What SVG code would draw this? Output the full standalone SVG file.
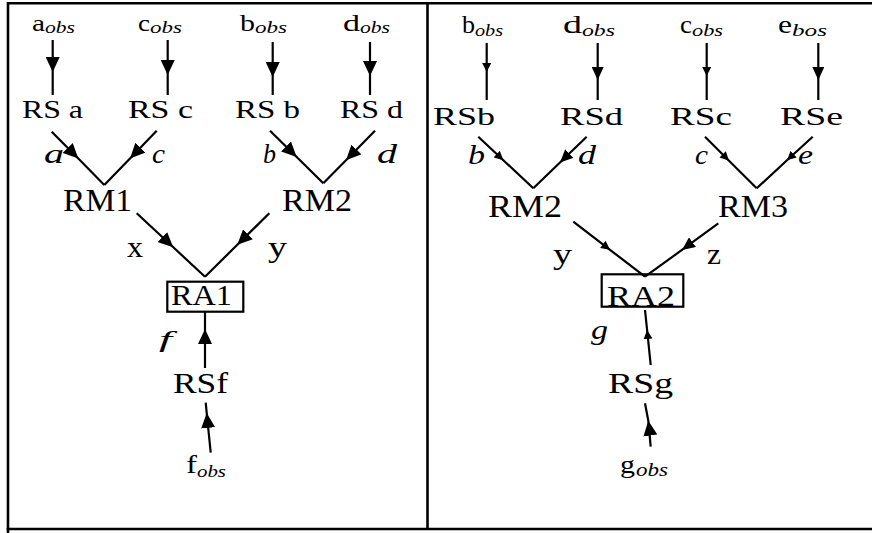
<svg xmlns="http://www.w3.org/2000/svg" width="872" height="533" viewBox="0 0 872 533">
<style>
text{font-family:"Times New Roman","Liberation Serif",serif;fill:#000;}
.m{font-size:24px;}
.s{font-size:17px;font-style:italic;}
.rs{font-size:25px;}
.rm{font-size:31px;}
.it{font-size:28px;font-style:italic;}
.xy{font-size:30px;}
.ra{font-size:29px;}
.c{fill:none;stroke:#000;stroke-width:2.2;}
.frame{fill:none;stroke:#000;stroke-width:2.6;}
</style>
<defs>
<marker id="big" markerUnits="userSpaceOnUse" markerWidth="16" markerHeight="14" refX="15" refY="7" orient="auto" viewBox="0 0 16 14"><path d="M0,0 L15,7 L0,14 z" fill="#000"/></marker>
<marker id="med" markerUnits="userSpaceOnUse" markerWidth="14" markerHeight="12" refX="13" refY="6" orient="auto" viewBox="0 0 14 12"><path d="M0,0 L13,6 L0,12 z" fill="#000"/></marker>
<marker id="sm" markerUnits="userSpaceOnUse" markerWidth="10" markerHeight="9" refX="9" refY="4.5" orient="auto" viewBox="0 0 10 9"><path d="M0,0 L9,4.5 L0,9 z" fill="#000"/></marker>
</defs>
<rect width="872" height="533" fill="#fff"/>
<g id="frame">
<path class="frame" d="M8,533 V3.3 H872"/>
<path class="frame" d="M6.7,529 H872"/>
<path class="frame" d="M427.5,3 V529"/>
</g>
<g id="connectors">
<path class="c" d="M52.7,40 L52.7,72 L52.7,95" marker-mid="url(#big)"/>
<path class="c" d="M167.7,40 L167.7,75 L167.7,95" marker-mid="url(#big)"/>
<path class="c" d="M272.7,42 L272.7,77 L272.7,95" marker-mid="url(#big)"/>
<path class="c" d="M370,42 L370,76 L370,95" marker-mid="url(#big)"/>
<path class="c" d="M51.7,131.7 L78.3,158.6 L104.3,185" marker-mid="url(#big)"/>
<path class="c" d="M156.7,130.7 L130,158.4 L104.3,185" marker-mid="url(#big)"/>
<path class="c" d="M270,130.7 L296.7,157 L323.3,183.3" marker-mid="url(#big)"/>
<path class="c" d="M375,130.7 L346,160.2 L323.3,183.3" marker-mid="url(#big)"/>
<path class="c" d="M136.7,213.3 L173.3,247.3 L205,276.7" marker-mid="url(#big)"/>
<path class="c" d="M269.3,213.3 L237.3,244.8 L205,276.7" marker-mid="url(#big)"/>
<path class="c" d="M205,368 L205,329 L205,311.7" marker-mid="url(#big)"/>
<path class="c" d="M210.7,452.7 L206.7,413 L205.7,402.7" marker-mid="url(#big)"/>
<path class="c" d="M486.7,43 L486.7,72 L486.7,100" marker-mid="url(#sm)"/>
<path class="c" d="M597.7,43 L597.7,80 L597.7,100" marker-mid="url(#med)"/>
<path class="c" d="M706.7,43 L706.7,76 L706.7,100" marker-mid="url(#sm)"/>
<path class="c" d="M818.3,43 L818.3,80 L818.3,100" marker-mid="url(#med)"/>
<path class="c" d="M478.3,136.7 L503.3,160.2 L533.3,188.3" marker-mid="url(#sm)"/>
<path class="c" d="M586.7,136.7 L560,162.5 L533.3,188.3" marker-mid="url(#med)"/>
<path class="c" d="M705,136.7 L729,160.7 L756.7,188.3" marker-mid="url(#sm)"/>
<path class="c" d="M812.7,136.7 L787,160.3 L756.7,188.3" marker-mid="url(#sm)"/>
<path class="c" d="M573.3,221.7 L610,249.8 L645,276.7" marker-mid="url(#sm)"/>
<path class="c" d="M718.3,223.3 L682,249.9 L645,276.7" marker-mid="url(#med)"/>
<path class="c" d="M650.7,365 L647.1,330 L645,310" marker-mid="url(#sm)"/>
<path class="c" d="M650.7,446.7 L648.3,420.7 L645,403.3" marker-mid="url(#big)"/>
</g>
<g id="aobs"><text class="m" x="32" y="31" textLength="13" lengthAdjust="spacingAndGlyphs">a</text><text class="s" x="45" y="33" textLength="30" lengthAdjust="spacingAndGlyphs">obs</text></g>
<g id="cobs"><text class="m" x="138" y="31" textLength="12" lengthAdjust="spacingAndGlyphs">c</text><text class="s" x="150" y="33" textLength="32" lengthAdjust="spacingAndGlyphs">obs</text></g>
<g id="bobs"><text class="m" x="240" y="31" textLength="15" lengthAdjust="spacingAndGlyphs">b</text><text class="s" x="255" y="33" textLength="32" lengthAdjust="spacingAndGlyphs">obs</text></g>
<g id="dobs"><text class="m" x="343" y="31" textLength="17" lengthAdjust="spacingAndGlyphs">d</text><text class="s" x="360" y="33" textLength="30" lengthAdjust="spacingAndGlyphs">obs</text></g>
<g id="RSa"><text class="rs" x="22" y="118" textLength="61" lengthAdjust="spacingAndGlyphs">RS a</text></g>
<g id="RSc"><text class="rs" x="128" y="118" textLength="65" lengthAdjust="spacingAndGlyphs">RS c</text></g>
<g id="RSb"><text class="rs" x="235" y="118" textLength="65" lengthAdjust="spacingAndGlyphs">RS b</text></g>
<g id="RSd"><text class="rs" x="340" y="118" textLength="63" lengthAdjust="spacingAndGlyphs">RS d</text></g>
<g id="labels-left">
<text class="it" x="44" y="163" textLength="20" lengthAdjust="spacingAndGlyphs">a</text>
<text class="it" x="152" y="163" textLength="13" lengthAdjust="spacingAndGlyphs">c</text>
<text class="it" x="263" y="163" textLength="13" lengthAdjust="spacingAndGlyphs">b</text>
<text class="it" x="377" y="163" textLength="20" lengthAdjust="spacingAndGlyphs">d</text>
<text class="xy" x="127" y="257" textLength="16" lengthAdjust="spacingAndGlyphs">x</text>
<text class="xy" x="268" y="257" textLength="19" lengthAdjust="spacingAndGlyphs">y</text>
<text class="it" x="159" y="347" textLength="13" lengthAdjust="spacingAndGlyphs" style="font-size:24px">f</text>
</g>
<g id="RM1"><text class="rm" x="63" y="211" textLength="69" lengthAdjust="spacingAndGlyphs">RM1</text></g>
<g id="RM2a"><text class="rm" x="282" y="211" textLength="70" lengthAdjust="spacingAndGlyphs">RM2</text></g>
<g id="RA1"><rect x="167.3" y="281.7" width="76" height="30" fill="none" stroke="#000" stroke-width="2.2"/><text class="ra" x="171" y="305" textLength="61" lengthAdjust="spacingAndGlyphs">RA1</text></g>
<g id="RSf"><text class="ra" x="173" y="392.7" textLength="55" lengthAdjust="spacingAndGlyphs">RSf</text></g>
<g id="fobs"><text class="m" x="186" y="472.7" textLength="11" lengthAdjust="spacingAndGlyphs" style="font-size:25px">f</text><text class="s" x="197" y="477" textLength="29" lengthAdjust="spacingAndGlyphs">obs</text></g>
<g id="bobs2"><text class="m" x="462" y="33" textLength="13" lengthAdjust="spacingAndGlyphs" style="font-size:26px">b</text><text class="s" x="475" y="36" textLength="28" lengthAdjust="spacingAndGlyphs">obs</text></g>
<g id="dobs2"><text class="m" x="563" y="33" textLength="19" lengthAdjust="spacingAndGlyphs" style="font-size:26px">d</text><text class="s" x="582" y="36" textLength="33" lengthAdjust="spacingAndGlyphs">obs</text></g>
<g id="cobs2"><text class="m" x="680" y="33" textLength="12" lengthAdjust="spacingAndGlyphs" style="font-size:26px">c</text><text class="s" x="692" y="36" textLength="31" lengthAdjust="spacingAndGlyphs">obs</text></g>
<g id="ebos"><text class="m" x="778" y="33" textLength="14" lengthAdjust="spacingAndGlyphs" style="font-size:26px">e</text><text class="s" x="792" y="36" textLength="35" lengthAdjust="spacingAndGlyphs">bos</text></g>
<g id="RSb2"><text class="rs" x="433" y="125" textLength="62" lengthAdjust="spacingAndGlyphs">RSb</text></g>
<g id="RSd2"><text class="rs" x="560" y="125" textLength="63" lengthAdjust="spacingAndGlyphs">RSd</text></g>
<g id="RSc2"><text class="rs" x="670" y="125" textLength="62" lengthAdjust="spacingAndGlyphs">RSc</text></g>
<g id="RSe"><text class="rs" x="780" y="125" textLength="63" lengthAdjust="spacingAndGlyphs">RSe</text></g>
<g id="labels-right">
<text class="it" x="468" y="164" textLength="17" lengthAdjust="spacingAndGlyphs">b</text>
<text class="it" x="578" y="164" textLength="18" lengthAdjust="spacingAndGlyphs">d</text>
<text class="it" x="695" y="164" textLength="13" lengthAdjust="spacingAndGlyphs">c</text>
<text class="it" x="798" y="164" textLength="15" lengthAdjust="spacingAndGlyphs">e</text>
<text class="xy" x="553" y="264" textLength="19" lengthAdjust="spacingAndGlyphs">y</text>
<text class="xy" x="707" y="264" textLength="14" lengthAdjust="spacingAndGlyphs">z</text>
<text class="it" x="591" y="339" textLength="17" lengthAdjust="spacingAndGlyphs">g</text>
</g>
<g id="RM2b"><text class="rm" x="488" y="216.7" textLength="74" lengthAdjust="spacingAndGlyphs">RM2</text></g>
<g id="RM3"><text class="rm" x="718" y="216.7" textLength="70" lengthAdjust="spacingAndGlyphs">RM3</text></g>
<g id="RA2"><rect x="601.7" y="274.3" width="81.6" height="32.4" fill="none" stroke="#000" stroke-width="2.2"/><text class="rm" x="607" y="306" textLength="68" lengthAdjust="spacingAndGlyphs" style="font-size:30px">RA2</text></g>
<g id="RSg"><text class="ra" x="608" y="393" textLength="65" lengthAdjust="spacingAndGlyphs">RSg</text></g>
<g id="gobs"><text class="m" x="620" y="473" textLength="15" lengthAdjust="spacingAndGlyphs" style="font-size:25px">g</text><text class="s" x="636" y="476" textLength="32" lengthAdjust="spacingAndGlyphs" style="font-size:18px">obs</text></g>
</svg>
